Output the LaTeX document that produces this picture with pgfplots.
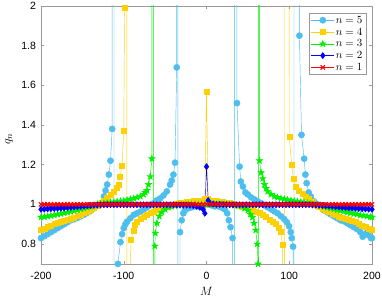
\documentclass[border=0pt]{standalone}
\usepackage{pgfplots}
\pgfplotsset{compat=1.18}
\usepackage{fontspec}
\setmainfont{Liberation Sans}
\usetikzlibrary{plotmarks}
\definecolor{c5}{RGB}{77,190,238}
\definecolor{c4}{RGB}{255,208,0}
\definecolor{c3}{RGB}{0,240,0}
\definecolor{c2}{RGB}{0,0,255}
\definecolor{c1}{RGB}{255,0,0}
\pgfdeclareplotmark{pentagram}{%
  \pgfpathmoveto{\pgfqpointpolar{90}{\pgfplotmarksize}}%
  \pgfpathlineto{\pgfqpointpolar{234}{\pgfplotmarksize}}%
  \pgfpathlineto{\pgfqpointpolar{18}{\pgfplotmarksize}}%
  \pgfpathlineto{\pgfqpointpolar{162}{\pgfplotmarksize}}%
  \pgfpathlineto{\pgfqpointpolar{306}{\pgfplotmarksize}}%
  \pgfpathclose
  \pgfusepathqfillstroke}
\begin{document}
\begin{tikzpicture}
\begin{axis}[name=ax, scale only axis, width=331pt, height=258pt,
  xmin=-200, xmax=200, ymin=0.7, ymax=2,
  xtick={-200,-100,0,100,200}, ytick={0.8,1,1.2,1.4,1.6,1.8,2},
  /pgf/number format/assume math mode=true,
  tick label style={font=\fontsize{10.5}{12}\selectfont},
  xticklabel style={yshift=-5pt},
  yticklabel style={xshift=-1.5pt},
  axis line style={gray!80}, tick style={gray!80, line width=0.4pt},
  major tick length=3pt,
  every axis x label/.style={at={(axis description cs:0.5,0)}, yshift=-28pt, anchor=center, font=\fontsize{13}{15}\selectfont},
  every axis y label/.style={at={(axis description cs:0,0.5)}, xshift=-32pt, yshift=-4pt, rotate=90, anchor=center, font=\fontsize{13}{15}\selectfont},
  xlabel={$M$}, ylabel={$q_n$},
  legend style={at={(0.982,0.972)}, anchor=north east, draw=gray!80, font=\fontsize{10.5}{12}\selectfont, inner xsep=2pt, inner ysep=1pt, nodes={inner sep=1.4pt, text height=7.5pt, text depth=1.5pt}},
  legend cell align=left,
  legend image code/.code={\draw[mark repeat=2,mark phase=2,#1] plot coordinates {(0cm,0cm) (0.4cm,0cm) (0.8cm,0cm)};},
]
\addplot[color=c5, line width=0.45pt, mark=*, mark size=3.1pt, mark options={fill=c5, draw=c5}] coordinates {
(-200,0.83) (-196,0.84) (-192,0.85) (-188,0.86) (-184,0.87) (-180,0.88) (-176,0.89) (-172,0.90) (-168,0.91) (-164,0.92) (-160,0.925) (-156,0.932) (-152,0.94) (-148,0.948) (-144,0.958) (-140,0.968) (-136,0.98) (-132,0.993) (-128,1.005) (-124,1.04) (-122,1.07) (-120,1.10) (-118,1.15) (-116,1.22) (-114,1.38) (-112.5,40) (-111,-40) (-107,0.70) (-104,0.81) (-102,0.85) (-100,0.88) (-98,0.90) (-96,0.913) (-92,0.93) (-88,0.947) (-84,0.955) (-80,0.963) (-76,0.972) (-72,0.985) (-68,0.995) (-64,1.005) (-60,1.02) (-56,1.03) (-52,1.045) (-48,1.065) (-44,1.10) (-42,1.12) (-40,1.15) (-38,1.21) (-36,1.69) (-35,40) (-34,-40) (-32,0.86) (-30,0.92) (-28,0.955) (-26,0.97) (-22,0.98) (-18,0.985) (-14,0.99) (-10,0.99) (-6,0.995) (-2,1.0) (2,1.0) (6,0.995) (10,0.99) (14,0.99) (18,0.985) (22,0.975) (25,0.955) (27,0.92) (29,0.885) (31.5,0.83) (33,-40) (35,40) (36.8,1.51) (40,1.19) (41.5,1.115) (44,1.09) (47,1.06) (50,1.05) (54,1.035) (58,1.025) (62,1.015) (66,1.005) (70,0.995) (74,0.985) (78,0.975) (82,0.965) (86,0.955) (90,0.94) (94,0.925) (97,0.91) (99.8,0.89) (101.8,0.86) (103,0.83) (104.6,0.787) (105.5,-40) (106,40) (112.3,1.85) (114.8,1.35) (118,1.23) (119.5,1.15) (121,1.107) (123.5,1.06) (126,1.04) (130,1.015) (134,1.0) (138,0.985) (142,0.97) (146,0.96) (150,0.95) (154,0.94) (158,0.93) (162,0.92) (166,0.915) (170,0.905) (174,0.895) (178,0.885) (182,0.875) (186,0.86) (188.7,0.837) (192,0.85) (194.5,0.86) (196,0.845) (198.8,0.83) (200,0.83)
};
\addlegendentry{$n=5$}
\addplot[color=c4, line width=0.45pt, mark=square*, mark size=2.5pt, mark options={fill=c4, draw=c4}] coordinates {
(-200,0.87) (-196,0.876) (-192,0.885) (-188,0.893) (-184,0.90) (-180,0.907) (-176,0.913) (-172,0.918) (-168,0.923) (-164,0.928) (-160,0.935) (-156,0.942) (-152,0.95) (-148,0.957) (-144,0.965) (-140,0.975) (-136,0.985) (-132,0.995) (-128,1.005) (-124,1.02) (-120,1.035) (-116,1.05) (-112,1.065) (-108,1.085) (-106.5,1.10) (-104.5,1.14) (-102,1.195) (-100,1.37) (-99,1.99) (-97.5,40) (-95,-40) (-92.5,0.66) (-91,0.824) (-88.5,0.868) (-86.5,0.896) (-84,0.915) (-80,0.93) (-76,0.94) (-72,0.95) (-68,0.96) (-64,0.965) (-60,0.975) (-56,0.98) (-52,0.985) (-48,0.99) (-44,0.995) (-40,1.0) (-36,1.005) (-32,1.008) (-28,1.01) (-24,1.012) (-20,1.015) (-16,1.017) (-12,1.018) (-8,1.02) (-4,1.02) (-2,1.03) (0,1.57) (2,1.03) (4,1.02) (8,1.02) (12,1.018) (16,1.015) (20,1.012) (24,1.01) (28,1.008) (32,1.005) (36,1.0) (40,0.995) (44,0.99) (48,0.985) (52,0.98) (56,0.975) (60,0.965) (64,0.958) (68,0.95) (72,0.94) (76,0.925) (80,0.915) (84,0.90) (87,0.88) (89.5,0.86) (92,0.795) (93.5,-40) (95.5,40) (100,1.34) (103,1.2) (105,1.13) (108,1.09) (112,1.07) (116,1.055) (120,1.04) (124,1.03) (128,1.015) (132,1.0) (136,0.99) (140,0.98) (144,0.97) (148,0.962) (152,0.955) (156,0.948) (160,0.94) (164,0.935) (168,0.93) (172,0.925) (176,0.918) (180,0.91) (184,0.90) (188,0.893) (192,0.885) (196,0.876) (200,0.87)
};
\addlegendentry{$n=4$}
\addplot[color=c3, line width=0.45pt, mark=pentagram, mark size=3.4pt, mark options={fill=c3, draw=c3}] coordinates {
(-200,0.935) (-196,0.937) (-192,0.94) (-188,0.943) (-184,0.946) (-180,0.95) (-176,0.953) (-172,0.957) (-168,0.96) (-164,0.964) (-160,0.968) (-156,0.972) (-152,0.976) (-148,0.98) (-144,0.985) (-140,0.99) (-136,0.995) (-132,1.0) (-128,1.003) (-124,1.006) (-120,1.008) (-116,1.01) (-112,1.012) (-108,1.014) (-104,1.016) (-100,1.018) (-96,1.022) (-92,1.026) (-88,1.03) (-84,1.035) (-80,1.04) (-76,1.05) (-74,1.06) (-72,1.07) (-70,1.10) (-68,1.14) (-66,1.23) (-65,40) (-63.5,-40) (-62.5,0.79) (-61.8,0.855) (-60,0.905) (-57,0.94) (-54,0.96) (-50,0.975) (-46,0.985) (-42,0.99) (-38,0.993) (-34,0.995) (-30,0.997) (-26,0.998) (-22,0.999) (-18,1.0) (-14,1.0) (-10,1.0) (-6,1.0) (-2,1.0) (2,1.0) (6,1.0) (10,1.0) (14,1.0) (18,1.0) (22,0.999) (26,0.998) (30,0.997) (34,0.995) (38,0.993) (42,0.99) (46,0.98) (50,0.97) (53,0.95) (55.5,0.935) (57.5,0.905) (59.5,0.87) (61.3,0.80) (62.3,0.70) (62.8,-40) (63.2,40) (64,1.22) (66,1.16) (68,1.13) (70,1.10) (72,1.08) (74,1.065) (78,1.05) (82,1.04) (86,1.035) (90,1.03) (94,1.027) (98,1.023) (102,1.02) (106,1.017) (110,1.014) (114,1.012) (118,1.01) (122,1.007) (126,1.004) (130,1.0) (134,0.997) (138,0.993) (142,0.988) (146,0.984) (150,0.98) (154,0.976) (158,0.972) (162,0.968) (166,0.964) (170,0.96) (174,0.957) (178,0.953) (182,0.95) (186,0.946) (190,0.943) (194,0.94) (198,0.937) (200,0.935)
};
\addlegendentry{$n=3$}
\addplot[color=c2, line width=0.45pt, mark=diamond*, mark size=3.1pt, mark options={fill=c2, draw=c2}] coordinates {
(-200,0.975) (-196,0.976) (-192,0.977) (-188,0.978) (-184,0.979) (-180,0.98) (-176,0.981) (-172,0.982) (-168,0.984) (-164,0.985) (-160,0.987) (-156,0.988) (-152,0.99) (-148,0.991) (-144,0.993) (-140,0.994) (-136,0.995) (-132,0.996) (-128,0.997) (-124,0.998) (-120,0.998) (-116,0.998) (-112,0.998) (-108,0.998) (-104,0.998) (-100,0.998) (-96,0.998) (-92,0.998) (-88,0.998) (-84,0.998) (-80,0.998) (-76,0.998) (-72,0.998) (-68,0.998) (-64,0.998) (-60,0.998) (-56,0.998) (-52,0.998) (-48,0.998) (-44,0.998) (-40,0.998) (-36,0.997) (-32,0.997) (-28,0.996) (-24,0.996) (-20,0.995) (-16,0.993) (-12,0.99) (-8,0.985) (-4,0.975) (-2,0.955) (0,1.19) (2,1.02) (4,1.005) (8,1.002) (12,1.0) (16,1.0) (20,0.999) (24,0.999) (28,0.998) (32,0.998) (36,0.998) (40,0.998) (44,0.998) (48,0.998) (52,0.998) (56,0.998) (60,0.998) (64,0.998) (68,0.998) (72,0.998) (76,0.998) (80,0.998) (84,0.998) (88,0.998) (92,0.998) (96,0.998) (100,0.998) (104,0.998) (108,0.998) (112,0.998) (116,0.998) (120,0.998) (124,0.998) (128,0.997) (132,0.996) (136,0.995) (140,0.994) (144,0.993) (148,0.991) (152,0.99) (156,0.988) (160,0.987) (164,0.985) (168,0.984) (172,0.982) (176,0.981) (180,0.98) (184,0.979) (188,0.978) (192,0.977) (196,0.976) (200,0.975)
};
\addlegendentry{$n=2$}
\addplot[color=c1, line width=0.45pt, mark=x, mark size=3pt, mark options={line width=1.2pt}] coordinates {
(-200,1) (-196,1) (-192,1) (-188,1) (-184,1) (-180,1) (-176,1) (-172,1) (-168,1) (-164,1) (-160,1) (-156,1) (-152,1) (-148,1) (-144,1) (-140,1) (-136,1) (-132,1) (-128,1) (-124,1) (-120,1) (-116,1) (-112,1) (-108,1) (-104,1) (-100,1) (-96,1) (-92,1) (-88,1) (-84,1) (-80,1) (-76,1) (-72,1) (-68,1) (-64,1) (-60,1) (-56,1) (-52,1) (-48,1) (-44,1) (-40,1) (-36,1) (-32,1) (-28,1) (-24,1) (-20,1) (-16,1) (-12,1) (-8,1) (-4,1) (0,1) (4,1) (8,1) (12,1) (16,1) (20,1) (24,1) (28,1) (32,1) (36,1) (40,1) (44,1) (48,1) (52,1) (56,1) (60,1) (64,1) (68,1) (72,1) (76,1) (80,1) (84,1) (88,1) (92,1) (96,1) (100,1) (104,1) (108,1) (112,1) (116,1) (120,1) (124,1) (128,1) (132,1) (136,1) (140,1) (144,1) (148,1) (152,1) (156,1) (160,1) (164,1) (168,1) (172,1) (176,1) (180,1) (184,1) (188,1) (192,1) (196,1) (200,1)
};
\addlegendentry{$n=1$}
\end{axis}
\pgfresetboundingbox
\path[use as bounding box] ([xshift=-41pt,yshift=-36pt]ax.south west) rectangle ([xshift=10pt,yshift=6pt]ax.north east);
\end{tikzpicture}
\end{document}
